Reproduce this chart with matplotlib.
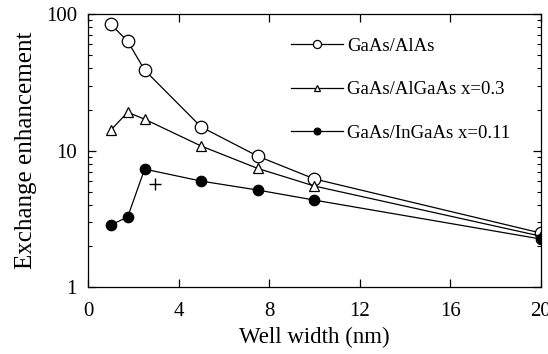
import matplotlib
matplotlib.use("Agg")
import matplotlib.pyplot as plt
import numpy as np
from matplotlib.ticker import FixedLocator, LogLocator, NullFormatter, FixedFormatter

plt.rcParams['font.family'] = ['Liberation Serif', 'DejaVu Serif']

well_width = [1, 1.75, 2.5, 5, 7.5, 10, 20]
alas = [84.5, 63.4, 38.9, 14.9, 9.1, 6.2, 2.49]
algaas = [14.1, 19.1, 17.0, 10.8, 7.4, 5.5, 2.36]
ingaas = [2.85, 3.26, 7.32, 5.98, 5.14, 4.34, 2.25]
plus_x = [2.96]
plus_y = [5.68]

labels = ['GaAs/AlAs', 'GaAs/AlGaAs x=0.3', 'GaAs/InGaAs x=0.11']
xticks = [0, 4, 8, 12, 16, 20]

fig = plt.figure(figsize=(5.48, 3.54), dpi=100)
ax = fig.add_axes([0.1606, 0.189, 0.987 - 0.1606, 0.960 - 0.189])

ax.plot(well_width, alas, '-', color='black', lw=0.9, marker='o', ms=9,
        mfc='white', mec='black', mew=0.9, label=labels[0])
ax.plot(well_width, algaas, '-', color='black', lw=0.9, marker='^', ms=6.5,
        mfc='white', mec='black', mew=0.9, label=labels[1])
ax.plot(well_width, ingaas, '-', color='black', lw=0.9, marker='o', ms=7.5,
        mfc='black', mec='black', mew=0.9, label=labels[2])
ax.plot(plus_x, plus_y, '+', color='black', ms=9, mew=1.0)

ax.set_yscale('log')
ax.set_xlim(0, 20)
ax.set_ylim(1, 100)
ax.set_xticks(xticks)
ax.set_xticklabels([str(t) for t in xticks])
ax.yaxis.set_major_locator(FixedLocator([1, 10, 100]))
ax.yaxis.set_major_formatter(FixedFormatter(['1', '10', '100']))
ax.yaxis.set_minor_locator(LogLocator(base=10, subs=np.arange(2, 10)))
ax.yaxis.set_minor_formatter(NullFormatter())

ax.tick_params(which='both', direction='in', top=True, right=True, labelsize=15)
ax.tick_params(which='major', length=6, width=0.9)
ax.tick_params(which='minor', length=3, width=0.8)
ax.tick_params(axis='x', pad=11)
ax.tick_params(axis='y', pad=8)
for s in ax.spines.values():
    s.set_linewidth(0.9)

ax.set_xlabel('Well width (nm)', fontsize=16.5, labelpad=4)
ax.set_ylabel('Exchange enhancement', fontsize=18, labelpad=6)

leg = ax.legend(loc='upper left', bbox_to_anchor=(0.41, 0.975), frameon=False,
                fontsize=13.5, handlelength=2.8, labelspacing=1.4, handletextpad=0.2,
                markerscale=0.65)

fig.savefig('out.png', dpi=100)
